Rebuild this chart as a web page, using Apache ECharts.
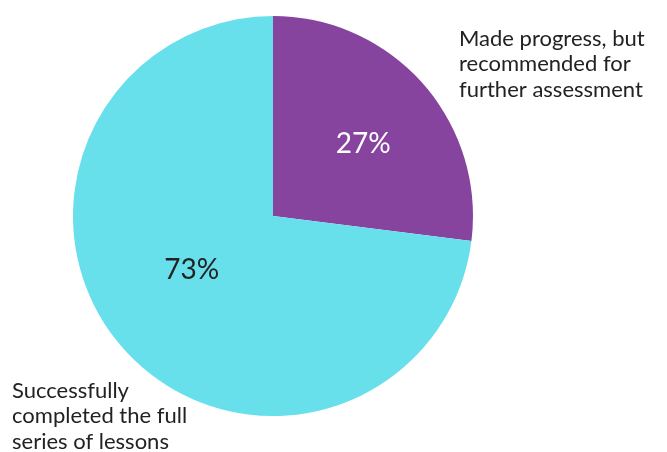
<!DOCTYPE html>
<html>
<head>
<meta charset="utf-8">
<script src="https://cdn.jsdelivr.net/npm/echarts@6/dist/echarts.min.js"></script>
<style>html,body{margin:0;padding:0;background:#fff;}#c{width:667px;height:452px;}</style>
</head>
<body>
<div id="c"></div>
<script>
const categories = [
  ["Made progress, but", "recommended for", "further assessment"],
  ["Successfully", "completed the full", "series of lessons"]
];
const values = [27, 73];
const colors = ["#86449f", "#68e0ec"];
const labelColors = ["#ffffff", "#222222"];

const FONT = "Lato, 'Noto Sans', sans-serif";
const chart = echarts.init(document.getElementById('c'));
chart.setOption({
  animation: false,
  series: [{
    type: 'pie',
    center: [273, 216],
    radius: [0, 200],
    startAngle: 90,
    clockwise: true,
    silent: true,
    data: values.map((v, i) => ({
      value: v,
      name: categories[i].join(' '),
      itemStyle: { color: colors[i] },
      label: { color: labelColors[i], offset: i === 0 ? [13, -4] : [-4, -14] }
    })),
    label: {
      show: true,
      position: 'inside',
      formatter: p => p.value + '%',
      fontSize: 28,
      fontFamily: FONT,
      fontWeight: 'normal'
    },
    labelLine: { show: false },
    itemStyle: { borderWidth: 0 }
  }],
  graphic: [
    {
      type: 'text', left: 459, top: 26,
      style: { text: categories[0].join('\n'), fontSize: 22, lineHeight: 25.5, fontFamily: FONT, fill: '#222' }
    },
    {
      type: 'text', left: 12, top: 378,
      style: { text: categories[1].join('\n'), fontSize: 22, lineHeight: 25.5, fontFamily: FONT, fill: '#222' }
    }
  ]
});
</script>
</body>
</html>
